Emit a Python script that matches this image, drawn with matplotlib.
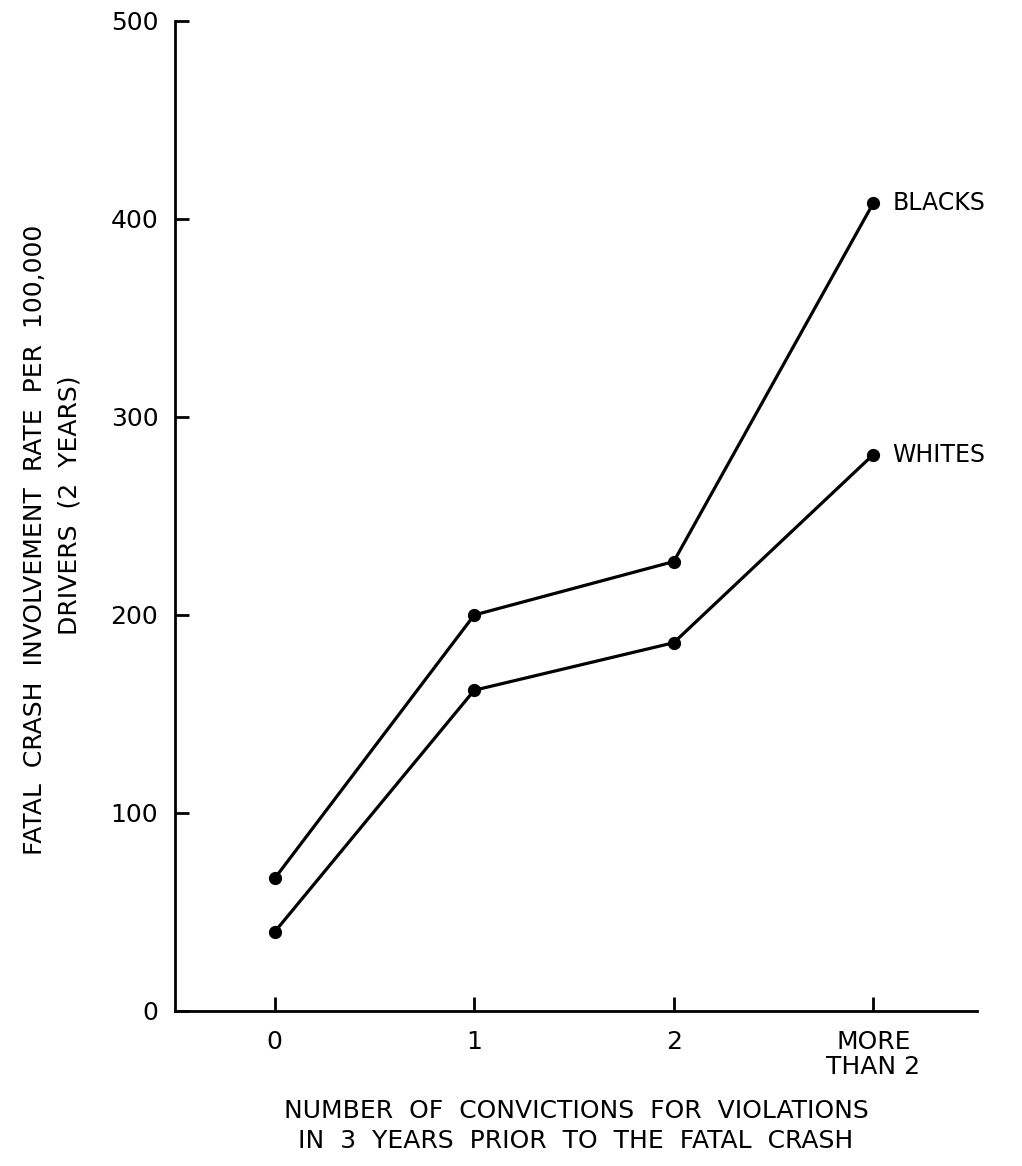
import matplotlib
matplotlib.use("Agg")
import matplotlib.pyplot as plt

# data
categories = ["0", "1", "2", "MORE\nTHAN 2"]
blacks = [67, 200, 227, 408]
whites = [40, 162, 186, 281]
y_ticks = [0, 100, 200, 300, 400, 500]

plt.rcParams["font.family"] = ["DejaVu Sans"]

fig = plt.figure(figsize=(10.22, 11.66), dpi=100)
ax = fig.add_axes([175 / 1022, 155 / 1166, (977 - 175) / 1022, (1145 - 155) / 1166])

xs = list(range(len(categories)))
for vals, name in [(blacks, "BLACKS"), (whites, "WHITES")]:
    ax.plot(xs, vals, "-o", color="black", lw=2.3, ms=8.5)
    ax.annotate(name, (xs[-1], vals[-1]), xytext=(14, 0), textcoords="offset points",
                va="center", ha="left", fontsize=17)

ax.set_xlim(-0.5, 3.52)
ax.set_ylim(0, 500)
ax.set_xticks(xs)
ax.set_xticklabels(categories, fontsize=18, linespacing=1.05)
ax.set_yticks(y_ticks)
ax.set_yticklabels([str(v) for v in y_ticks], fontsize=18)

for s in ("top", "right"):
    ax.spines[s].set_visible(False)
for s in ("left", "bottom"):
    ax.spines[s].set_linewidth(2)
ax.tick_params(axis="both", direction="in", length=10, width=2)
ax.tick_params(axis="x", pad=14)
ax.tick_params(axis="y", pad=12)

ax.set_xlabel("NUMBER  OF  CONVICTIONS  FOR  VIOLATIONS\nIN  3  YEARS  PRIOR  TO  THE  FATAL  CRASH",
              fontsize=18, linespacing=1.35, labelpad=14)
fig.text(35 / 1022, 1 - 540 / 1166, "FATAL  CRASH  INVOLVEMENT  RATE  PER  100,000",
         rotation=90, ha="center", va="center", fontsize=18)
fig.text(70 / 1022, 1 - 505 / 1166, "DRIVERS  (2  YEARS)",
         rotation=90, ha="center", va="center", fontsize=18)

fig.savefig("out.png", dpi=100)
